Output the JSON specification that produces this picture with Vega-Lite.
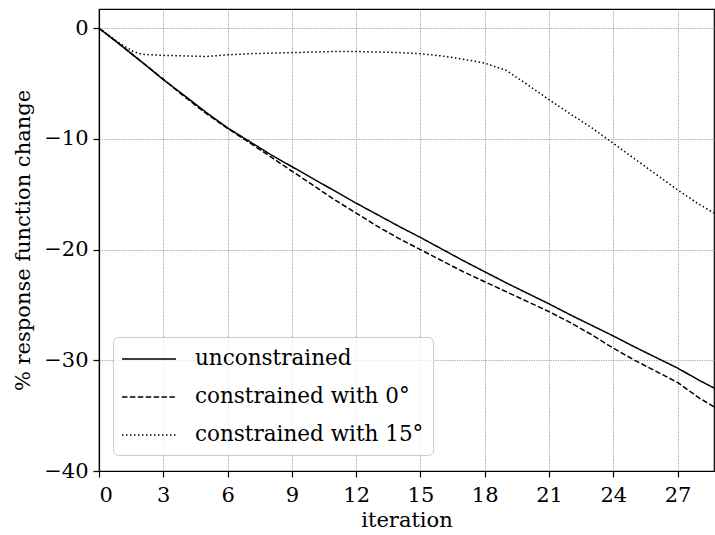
{
  "$schema": "https://vega.github.io/schema/vega-lite/v6.json",
  "width": 615,
  "height": 462,
  "autosize": {"type": "none"},
  "padding": {"left": 99, "top": 9, "right": 1, "bottom": 64},
  "background": "white",
  "config": {
    "font": "DejaVu Serif",
    "view": {"stroke": "black", "strokeWidth": 1.2},
    "axis": {
      "labelFont": "DejaVu Serif",
      "labelFontSize": 21,
      "labelColor": "black",
      "titleFont": "DejaVu Serif",
      "titleFontSize": 21,
      "titleFontWeight": "normal",
      "titleColor": "black",
      "domainColor": "black",
      "domainWidth": 1.2,
      "tickColor": "black",
      "tickWidth": 1.2,
      "tickSize": 6,
      "labelPadding": 5,
      "grid": true,
      "gridColor": "#8a8a8a",
      "gridDash": [1.2, 1.2],
      "gridWidth": 0.8
    },
    "legend": {
      "labelFont": "DejaVu Serif",
      "labelFontSize": 21.5,
      "labelColor": "black",
      "labelLimit": 0
    }
  },
  "data": {
    "values": [
      {"iteration": 0, "change": 0, "run": "unconstrained"},
      {"iteration": 1, "change": -1.5, "run": "unconstrained"},
      {"iteration": 2, "change": -3.05, "run": "unconstrained"},
      {"iteration": 3, "change": -4.64, "run": "unconstrained"},
      {"iteration": 4, "change": -6.1, "run": "unconstrained"},
      {"iteration": 5, "change": -7.6, "run": "unconstrained"},
      {"iteration": 6, "change": -9.0, "run": "unconstrained"},
      {"iteration": 7, "change": -10.2, "run": "unconstrained"},
      {"iteration": 8, "change": -11.4, "run": "unconstrained"},
      {"iteration": 9, "change": -12.5, "run": "unconstrained"},
      {"iteration": 10, "change": -13.6, "run": "unconstrained"},
      {"iteration": 11, "change": -14.7, "run": "unconstrained"},
      {"iteration": 12, "change": -15.8, "run": "unconstrained"},
      {"iteration": 13, "change": -16.85, "run": "unconstrained"},
      {"iteration": 14, "change": -17.9, "run": "unconstrained"},
      {"iteration": 15, "change": -18.9, "run": "unconstrained"},
      {"iteration": 16, "change": -19.95, "run": "unconstrained"},
      {"iteration": 17, "change": -21.0, "run": "unconstrained"},
      {"iteration": 18, "change": -22.0, "run": "unconstrained"},
      {"iteration": 19, "change": -23.0, "run": "unconstrained"},
      {"iteration": 20, "change": -23.95, "run": "unconstrained"},
      {"iteration": 21, "change": -24.9, "run": "unconstrained"},
      {"iteration": 22, "change": -25.9, "run": "unconstrained"},
      {"iteration": 23, "change": -26.85, "run": "unconstrained"},
      {"iteration": 24, "change": -27.8, "run": "unconstrained"},
      {"iteration": 25, "change": -28.8, "run": "unconstrained"},
      {"iteration": 26, "change": -29.75, "run": "unconstrained"},
      {"iteration": 27, "change": -30.7, "run": "unconstrained"},
      {"iteration": 28, "change": -31.8, "run": "unconstrained"},
      {"iteration": 28.7, "change": -32.5, "run": "unconstrained"},

      {"iteration": 0, "change": 0, "run": "constrained with 0°"},
      {"iteration": 1, "change": -1.5, "run": "constrained with 0°"},
      {"iteration": 2, "change": -3.05, "run": "constrained with 0°"},
      {"iteration": 3, "change": -4.6, "run": "constrained with 0°"},
      {"iteration": 4, "change": -6.2, "run": "constrained with 0°"},
      {"iteration": 5, "change": -7.7, "run": "constrained with 0°"},
      {"iteration": 6, "change": -9.05, "run": "constrained with 0°"},
      {"iteration": 7, "change": -10.3, "run": "constrained with 0°"},
      {"iteration": 8, "change": -11.6, "run": "constrained with 0°"},
      {"iteration": 9, "change": -12.9, "run": "constrained with 0°"},
      {"iteration": 10, "change": -14.2, "run": "constrained with 0°"},
      {"iteration": 11, "change": -15.5, "run": "constrained with 0°"},
      {"iteration": 12, "change": -16.7, "run": "constrained with 0°"},
      {"iteration": 13, "change": -17.9, "run": "constrained with 0°"},
      {"iteration": 14, "change": -19.0, "run": "constrained with 0°"},
      {"iteration": 15, "change": -20.0, "run": "constrained with 0°"},
      {"iteration": 16, "change": -21.0, "run": "constrained with 0°"},
      {"iteration": 17, "change": -22.0, "run": "constrained with 0°"},
      {"iteration": 18, "change": -22.9, "run": "constrained with 0°"},
      {"iteration": 19, "change": -23.8, "run": "constrained with 0°"},
      {"iteration": 20, "change": -24.7, "run": "constrained with 0°"},
      {"iteration": 21, "change": -25.6, "run": "constrained with 0°"},
      {"iteration": 22, "change": -26.6, "run": "constrained with 0°"},
      {"iteration": 23, "change": -27.7, "run": "constrained with 0°"},
      {"iteration": 24, "change": -28.9, "run": "constrained with 0°"},
      {"iteration": 25, "change": -30.0, "run": "constrained with 0°"},
      {"iteration": 26, "change": -31.0, "run": "constrained with 0°"},
      {"iteration": 27, "change": -32.0, "run": "constrained with 0°"},
      {"iteration": 28, "change": -33.4, "run": "constrained with 0°"},
      {"iteration": 28.7, "change": -34.2, "run": "constrained with 0°"},

      {"iteration": 0, "change": 0, "run": "constrained with 15°"},
      {"iteration": 1, "change": -1.4, "run": "constrained with 15°"},
      {"iteration": 1.6, "change": -2.1, "run": "constrained with 15°"},
      {"iteration": 2, "change": -2.35, "run": "constrained with 15°"},
      {"iteration": 3, "change": -2.45, "run": "constrained with 15°"},
      {"iteration": 4, "change": -2.5, "run": "constrained with 15°"},
      {"iteration": 5, "change": -2.55, "run": "constrained with 15°"},
      {"iteration": 6, "change": -2.4, "run": "constrained with 15°"},
      {"iteration": 7, "change": -2.3, "run": "constrained with 15°"},
      {"iteration": 8, "change": -2.25, "run": "constrained with 15°"},
      {"iteration": 9, "change": -2.2, "run": "constrained with 15°"},
      {"iteration": 10, "change": -2.15, "run": "constrained with 15°"},
      {"iteration": 11, "change": -2.1, "run": "constrained with 15°"},
      {"iteration": 12, "change": -2.1, "run": "constrained with 15°"},
      {"iteration": 13, "change": -2.15, "run": "constrained with 15°"},
      {"iteration": 14, "change": -2.2, "run": "constrained with 15°"},
      {"iteration": 15, "change": -2.3, "run": "constrained with 15°"},
      {"iteration": 16, "change": -2.5, "run": "constrained with 15°"},
      {"iteration": 17, "change": -2.8, "run": "constrained with 15°"},
      {"iteration": 18, "change": -3.15, "run": "constrained with 15°"},
      {"iteration": 19, "change": -3.8, "run": "constrained with 15°"},
      {"iteration": 20, "change": -5.1, "run": "constrained with 15°"},
      {"iteration": 21, "change": -6.45, "run": "constrained with 15°"},
      {"iteration": 22, "change": -7.75, "run": "constrained with 15°"},
      {"iteration": 23, "change": -9.0, "run": "constrained with 15°"},
      {"iteration": 24, "change": -10.4, "run": "constrained with 15°"},
      {"iteration": 25, "change": -11.8, "run": "constrained with 15°"},
      {"iteration": 26, "change": -13.2, "run": "constrained with 15°"},
      {"iteration": 27, "change": -14.6, "run": "constrained with 15°"},
      {"iteration": 28, "change": -15.9, "run": "constrained with 15°"},
      {"iteration": 28.7, "change": -16.7, "run": "constrained with 15°"}
    ]
  },
  "mark": {"type": "line", "color": "black", "strokeWidth": 1.5, "clip": true},
  "encoding": {
    "x": {
      "field": "iteration",
      "type": "quantitative",
      "scale": {"domain": [0, 28.7], "nice": false, "zero": false},
      "axis": {"values": [0, 3, 6, 9, 12, 15, 18, 21, 24, 27], "title": "iteration", "titleFont": "DejaVu Serif", "titleFontWeight": "normal", "titlePadding": 4, "labelPadding": 7}
    },
    "y": {
      "field": "change",
      "type": "quantitative",
      "scale": {"domain": [-40, 1.74], "nice": false, "zero": false},
      "axis": {"values": [-40, -30, -20, -10, 0], "title": "% response function change", "titleFont": "DejaVu Serif", "titleFontWeight": "normal", "titlePadding": 10}
    },
    "strokeDash": {
      "field": "run",
      "type": "nominal",
      "scale": {
        "domain": ["unconstrained", "constrained with 0°", "constrained with 15°"],
        "range": [[1, 0], [5.5, 2.4], [1.5, 2.5]]
      },
      "legend": {
        "title": null,
        "orient": "none",
        "legendX": 14,
        "legendY": 328,
        "symbolType": "M-2.25,0H2.25",
        "symbolSize": 576,
        "symbolOffset": 14,
        "symbolStrokeWidth": 1.5,
        "symbolStrokeColor": "black",
        "labelOffset": 33,
        "rowPadding": 14,
        "padding": 9,
        "cornerRadius": 5,
        "strokeColor": "#cccccc",
        "fillColor": "rgba(255,255,255,0.8)"
      }
    }
  }
}
